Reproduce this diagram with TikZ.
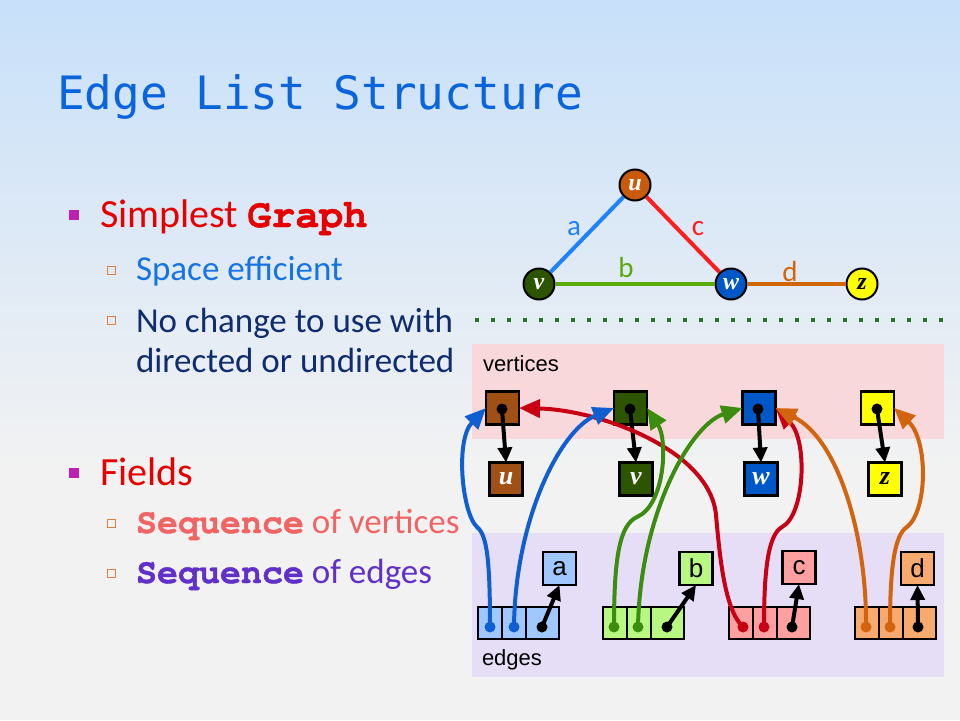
\documentclass[tikz,border=0pt]{standalone}
\usepackage{fontspec}
\setmainfont{Carlito}
\newfontfamily\titlefont{DejaVu Sans Mono}
\newfontfamily\monofont{texgyrecursor}[Extension=.otf, UprightFont=*-regular, BoldFont=*-bold, BoldFeatures={FakeBold=1.2}]
\newfontfamily\arialfont{Liberation Sans}
\newfontfamily\seriffont{Liberation Serif}
\usetikzlibrary{arrows.meta}
\newcommand\setfs[1]{\fontsize{#1}{#1}\selectfont}
\definecolor{bgtop}{RGB}{200,224,250}
\definecolor{bggray}{RGB}{242,242,242}
\definecolor{titleblue}{RGB}{10,100,220}
\definecolor{redtxt}{RGB}{230,0,0}
\definecolor{spaceblue}{RGB}{22,115,230}
\definecolor{navy}{RGB}{15,45,110}
\definecolor{salmon}{RGB}{240,100,100}
\definecolor{purp}{RGB}{96,48,200}
\definecolor{bulletmag}{RGB}{190,30,180}
\definecolor{subor}{RGB}{224,128,64}
\definecolor{ea}{RGB}{30,130,255}
\definecolor{eb}{RGB}{90,170,10}
\definecolor{ec}{RGB}{255,30,30}
\definecolor{ed}{RGB}{210,100,10}
\definecolor{ca}{RGB}{15,95,208}
\definecolor{cb}{RGB}{60,140,15}
\definecolor{cc}{RGB}{200,0,20}
\definecolor{cd}{RGB}{210,100,15}
\definecolor{fu}{RGB}{200,90,10}
\definecolor{bu}{RGB}{160,80,20}
\definecolor{fv}{RGB}{45,85,0}
\definecolor{fw}{RGB}{0,88,200}
\definecolor{fz}{RGB}{255,255,0}
\definecolor{cella}{RGB}{160,200,255}
\definecolor{cellb}{RGB}{184,248,130}
\definecolor{cellc}{RGB}{255,160,160}
\definecolor{celld}{RGB}{248,170,110}
\definecolor{pinkpanel}{RGB}{248,216,218}
\definecolor{lavpanel}{RGB}{230,222,246}
\definecolor{dotgreen}{RGB}{30,120,30}
\begin{document}
\begin{tikzpicture}[x=1pt,y=-1pt,
  txt/.style={anchor=base west, inner sep=0pt, outer sep=0pt},
  vbox/.style={draw=black, line width=2.5pt, minimum width=33pt, minimum height=33pt, inner sep=0pt, outer sep=0pt},
  lbox/.style={vbox, font=\seriffont\bfseries\itshape\setfs{26}},
  ebox/.style={vbox, font=\arialfont\setfs{26}},
  cell/.style={draw=black, line width=2.5pt, minimum height=32pt, inner sep=0pt, outer sep=0pt},
  gvert/.style={circle, draw=black, line width=2pt, minimum size=31pt, inner sep=0pt, font=\seriffont\bfseries\itshape\setfs{24}},
  glab/.style={font=\setfs{29}, inner sep=0pt},
  ptr/.style={line width=4pt, -{Triangle[length=15pt,width=14pt]}},
  link/.style={line width=4pt, -{Triangle[length=21pt,width=18pt]}},
  dot/.style={circle, inner sep=0pt, minimum size=11pt},
  gedge/.style={line width=4pt},
  bul/.style={fill=bulletmag, minimum size=10pt, inner sep=0pt},
  subbul/.style={draw=subor, line width=1pt, minimum size=8pt, inner sep=0pt},
]
\useasboundingbox (0,0) rectangle (960,720);
\shade[top color=bgtop, bottom color=bggray] (0,0) rectangle (960,470);
\fill[bggray] (0,470) rectangle (960,720);

% title
\node[txt, font=\titlefont\setfs{46}, text=titleblue] (title) at (57,109) {Edge List Structure};

% bullets
\node[bul] (b1) at (73.5,214.5) {};
\node[txt, font=\setfs{40}, text=redtxt] (t1) at (100,227) {Simplest {\monofont\bfseries Graph}};
\node[subbul] (s1) at (111.5,270) {};
\node[txt, font=\setfs{35}, text=spaceblue] (t2) at (136,280) {Space efficient};
\node[subbul] (s2) at (111.5,320) {};
\node[txt, font=\setfs{35}, text=navy] (t3) at (136,332) {No change to use with};
\node[txt, font=\setfs{35}, text=navy] (t4) at (136,372) {directed or undirected};
\node[bul] (b2) at (73.5,473) {};
\node[txt, font=\setfs{40}, text=redtxt] (t5) at (100,485) {Fields};
\node[subbul] (s3) at (111.5,523) {};
\node[txt, font=\setfs{35}, text=salmon] (t6) at (136,533) {{\monofont\bfseries Sequence} of vertices};
\node[subbul] (s4) at (111.5,573) {};
\node[txt, font=\setfs{35}, text=purp] (t7) at (136,583) {{\monofont\bfseries Sequence} of edges};

% graph
\node[gvert, fill=fu, text=white] (gu) at (635,185) {u};
\node[gvert, fill=fv, text=white] (gv) at (539,284) {v};
\node[gvert, fill=fw, text=white] (gw) at (731,284) {w};
\node[gvert, fill=fz, text=black] (gz) at (862,284) {z};
\draw[gedge, ea] (gu) -- (gv);
\draw[gedge, ec] (gu) -- (gw);
\draw[gedge, eb] (gv) -- (gw);
\draw[gedge, ed] (gw) -- (gz);
\node[glab, text=ea] (la) at (574,229) {a};
\node[glab, text=ec] (lc) at (698,229) {c};
\node[glab, text=eb] (lb) at (626,268) {b};
\node[glab, text=ed] (ld) at (790,272) {d};

% dotted separator
\coordinate (sepL) at (475,320);
\coordinate (sepR) at (948,320);
\draw[dotgreen, line width=4pt, dash pattern=on 4pt off 12pt] (sepL) -- (sepR);

% panels
\node[fill=pinkpanel, minimum width=472pt, minimum height=95pt, inner sep=0pt, anchor=north west] (vpanel) at (472,344) {};
\node[fill=lavpanel, minimum width=472pt, minimum height=144pt, inner sep=0pt, anchor=north west] (epanel) at (472,533) {};
\node[txt, font=\arialfont\setfs{22}] (vtxt) at (483,371) {vertices};
\node[txt, font=\arialfont\setfs{22}] (etxt) at (482,665) {edges};

% vertex boxes
\node[vbox, fill=bu] (vu) at (502.5,408) {};
\node[vbox, fill=fv] (vv) at (630.5,408) {};
\node[vbox, fill=fw] (vw) at (759,408) {};
\node[vbox, fill=fz] (vz) at (877.5,408) {};
\node[lbox, fill=bu, text=white] (lu) at (506,479) {u};
\node[lbox, fill=fv, text=white] (lv) at (636,479) {v};
\node[lbox, fill=fw, text=white] (lw) at (761,479) {w};
\node[lbox, fill=fz, text=black] (lz) at (885,479) {z};
\node[dot, fill=black] (du) at (502,409) {};
\node[dot, fill=black] (dv) at (630,409) {};
\node[dot, fill=black] (dw) at (758,409) {};
\node[dot, fill=black] (dz) at (877,409) {};
\draw[ptr] (du.center) -- (lu.north);
\draw[ptr] (dv.center) -- (lv.north);
\draw[ptr] (dw.center) -- (lw.north);
\draw[ptr] (dz.center) -- (lz.north);

% edge records
\node[cell, fill=cella, minimum width=24pt] (a1) at (490,623) {};
\node[cell, fill=cella, minimum width=24pt] (a2) at (514,623) {};
\node[cell, fill=cella, minimum width=33pt] (a3) at (542.5,623) {};
\node[cell, fill=cellb, minimum width=24pt] (b1c) at (615,623) {};
\node[cell, fill=cellb, minimum width=24pt] (b2c) at (639,623) {};
\node[cell, fill=cellb, minimum width=33pt] (b3c) at (667.5,623) {};
\node[cell, fill=cellc, minimum width=24pt] (c1) at (741,623) {};
\node[cell, fill=cellc, minimum width=24pt] (c2) at (765,623) {};
\node[cell, fill=cellc, minimum width=33pt] (c3) at (793.5,623) {};
\node[cell, fill=celld, minimum width=24pt] (d1) at (867,623) {};
\node[cell, fill=celld, minimum width=24pt] (d2) at (891,623) {};
\node[cell, fill=celld, minimum width=33pt] (d3) at (919.5,623) {};

\node[ebox, fill=cella] (xa) at (559.5,568.5) {a};
\node[ebox, fill=cellb] (xb) at (696,568.5) {b};
\node[ebox, fill=cellc] (xc) at (799,567.5) {c};
\node[ebox, fill=celld] (xd) at (917.5,568.5) {d};

\node[dot, fill=ca] (da1) at (490,627) {};
\node[dot, fill=ca] (da2) at (514,627) {};
\node[dot, fill=black] (da3) at (542,627) {};
\node[dot, fill=cb] (db1) at (614,627) {};
\node[dot, fill=cb] (db2) at (638,627) {};
\node[dot, fill=black] (db3) at (667,627) {};
\node[dot, fill=cc] (dc1) at (743,627) {};
\node[dot, fill=cc] (dc2) at (764,627) {};
\node[dot, fill=black] (dc3) at (792,627) {};
\node[dot, fill=cd] (dd1) at (866,627) {};
\node[dot, fill=cd] (dd2) at (890,627) {};
\node[dot, fill=black] (dd3) at (918,627) {};

\draw[ptr] (da3.center) -- (xa.south);
\draw[ptr] (db3.center) -- (xb.south);
\draw[ptr] (dc3.center) -- (xc.south);
\draw[ptr] (dd3.center) -- (xd.south);

% links from edge records to vertices
\draw[link, cc] (dc1.center) .. controls (725,610) and (720,560) .. (716,515) .. controls (710,450) and (600,410) .. (vu.east);
\draw[link, cc] (dc2.center) .. controls (764,570) and (768,535) .. (782,527) .. controls (805,515) and (808,440) .. (vw.east);
\draw[link, ca] (da1.center) .. controls (490,560) and (487,535) .. (477,527) .. controls (462,513) and (455,440) .. (vu.west);
\draw[link, ca] (da2.center) .. controls (515,520) and (560,430) .. (vv.west);
\draw[link, cb] (db1.center) .. controls (614,560) and (619,525) .. (637,517) .. controls (665,505) and (668,440) .. (vv.east);
\draw[link, cb] (db2.center) .. controls (640,515) and (690,425) .. (vw.west);
\draw[link, cd] (dd1.center) .. controls (867,540) and (840,440) .. (vw.east);
\draw[link, cd] (dd2.center) .. controls (890,570) and (894,535) .. (907,527) .. controls (928,510) and (928,440) .. (vz.east);
\end{tikzpicture}
\end{document}
